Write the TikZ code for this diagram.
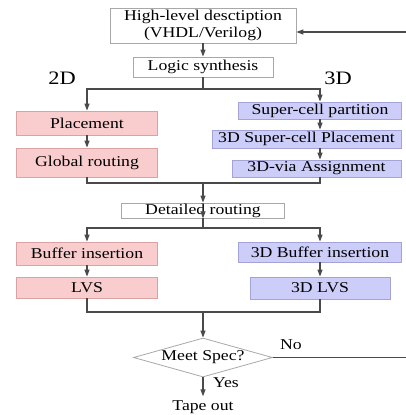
\documentclass[tikz,border=0pt]{standalone}
\usepackage{fontspec}
\setmainfont{Liberation Serif}[FakeStretch=1.18]
\usetikzlibrary{arrows.meta,shapes.geometric}
\definecolor{pinkfill}{HTML}{F9CDCD}
\definecolor{pinkline}{HTML}{D9A3A3}
\definecolor{bluefill}{HTML}{CDCDFA}
\definecolor{blueline}{HTML}{A3A3D6}
\definecolor{grayline}{HTML}{A8A8A8}
\definecolor{connc}{HTML}{4A4A4A}
\begin{document}
\begin{tikzpicture}[x=1pt,y=-1pt,
  font=\fontsize{15}{17}\selectfont,
  box/.style={draw=grayline,fill=white,line width=0.8pt,inner sep=0pt},
  pinkbox/.style={box,draw=pinkline,fill=pinkfill},
  bluebox/.style={box,draw=blueline,fill=bluefill},
  conn/.style={draw=connc,line width=1.1pt},
  arr/.style={conn,-{Triangle[width=5pt,length=7pt]}},
  lbl/.style={inner sep=0pt},
  biglbl/.style={inner sep=0pt,font=\fontsize{19}{20}\selectfont}]
\useasboundingbox (0,0) rectangle (405,415);
% nodes
\node[box,minimum width=186pt,minimum height=35pt,align=center] (hl) at (203,25.5) {High-level desctiption\\(VHDL/Verilog)};
\node[box,minimum width=140pt,minimum height=20pt] (ls) at (203,67) {Logic synthesis};
\node[biglbl] (l2) at (62,78.5) {2D};
\node[biglbl] (l3) at (338,78.5) {3D};
\coordinate (s1) at (203,89);
\node[pinkbox,minimum width=141pt,minimum height=24pt] (pl) at (87,123) {Placement};
\node[pinkbox,minimum width=141pt,minimum height=29pt] (gr) at (87,162.5) {Global routing};
\node[bluebox,minimum width=163pt,minimum height=17pt] (scp) at (320,110.5) {Super-cell partition};
\node[bluebox,minimum width=189pt,minimum height=18pt] (tscp) at (306.5,139) {3D Super-cell Placement};
\node[bluebox,minimum width=169pt,minimum height=17pt] (via) at (316.5,168.5) {3D-via Assignment};
\coordinate (m1) at (203,183);
\node[box,minimum width=163pt,minimum height=15pt] (dr) at (203,210.5) {Detailed routing};
\coordinate (s2) at (203,228);
\node[pinkbox,minimum width=141pt,minimum height=23pt] (bi) at (87,253.5) {Buffer insertion};
\node[pinkbox,minimum width=141pt,minimum height=21pt] (lvs) at (87,287.5) {LVS};
\node[bluebox,minimum width=163pt,minimum height=20pt] (tbi) at (320,252) {3D Buffer insertion};
\node[bluebox,minimum width=140pt,minimum height=22pt] (tlvs) at (320,288) {3D LVS};
\coordinate (m2) at (203,312);
\node[diamond,draw=grayline,line width=0.8pt,inner sep=0pt,shape aspect=3.56,minimum width=139pt,minimum height=39pt] (dm) at (203,357.5) {Meet Spec?};
\node[lbl] (no) at (291,345) {No};
\node[lbl] (yes) at (226,383) {Yes};
\node[lbl,inner ysep=4pt] (tape) at (203,407) {Tape out};
\coordinate (fb) at (408,32);
% connectors
\draw[arr] (hl.south) -- (ls.north);
\draw[conn] (ls.south) -- (s1);
\draw[arr] (s1) -| (pl.north);
\draw[arr] (s1) -| (scp.north);
\draw[arr] (pl.south) -- (gr.north);
\draw[arr] (scp.south) -- (scp.south |- tscp.north);
\draw[arr] (scp.south |- tscp.south) -- (scp.south |- via.north);
\draw[conn] (gr.south) |- (m1);
\draw[conn] (scp.south |- via.south) |- (m1);
\draw[arr] (m1) -- (dr.north);
\draw[arr] ([yshift=6pt]dr.south) -- (dr.south);
\draw[conn] (dr.south) -- (s2);
\draw[arr] (s2) -| (bi.north);
\draw[arr] (s2) -| (tbi.north);
\draw[arr] (bi.south) -- (lvs.north);
\draw[arr] (tbi.south) -- (tlvs.north);
\draw[conn] (lvs.south) |- (m2);
\draw[conn] (tlvs.south) |- (m2);
\draw[arr] (m2) -- (dm.north);
\draw[arr] (dm.south) -- (tape.north);
\draw[arr] (dm.east) -| (fb) -- (fb -| hl.east);
\end{tikzpicture}
\end{document}
